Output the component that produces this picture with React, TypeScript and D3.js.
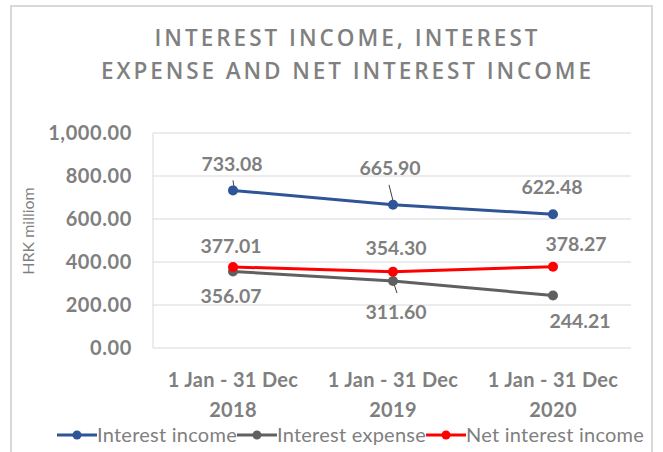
import React, { useEffect, useRef } from "react";
import * as d3 from "d3";

// ---- data ----
const years = ["2018", "2019", "2020"];
const periodLabels = ["1 Jan - 31 Dec", "1 Jan - 31 Dec", "1 Jan - 31 Dec"];
const interestIncome = [733.08, 665.9, 622.48];
const interestExpense = [356.07, 311.6, 244.21];
const netInterestIncome = [377.01, 354.3, 378.27];
const yTicks = [0, 200, 400, 600, 800, 1000];
const seriesNames = ["Interest income", "Interest expense", "Net interest income"];
const titleLines = ["INTEREST INCOME, INTEREST", "EXPENSE AND NET INTEREST INCOME"];
const yAxisTitle = "HRK milliom";

// ---- styling ----
const seriesColors = ["#2E5597", "#606060", "#FF0000"];
// label center offsets from point (dx, dy)
const labelOffsets = [
  [[-1, -26], [-3, -37], [-1, -27]],
  [[-2, 25], [3, 31], [27, 26]],
  [[-2, -21], [3, -24], [23, -23]],
];
// leader lines: [series, index, x1, y1, x2, y2] offsets from the point
const leaders = [
  [0, 0, 0, -10, 1, -3],
  [0, 1, -4, -20, 0, -4],
  [1, 1, 0, 0, 4, 12],
];

const W = 663;
const H = 452;
const FONT = "Lato, 'Open Sans', sans-serif";
const TXT = "#7f7f7f";

export default function App() {
  const ref = useRef<SVGSVGElement>(null);

  useEffect(() => {
    const svg = d3.select(ref.current);
    svg.selectAll("*").remove();

    const x = d3.scaleBand<string>().domain(years).range([153, 633]);
    const cx = (c: string) => (x(c) as number) + x.bandwidth() / 2;
    const y = d3.scaleLinear().domain([0, 1000]).range([348, 133]);

    // border
    svg.append("rect").attr("x", 11).attr("y", 6).attr("width", 641).attr("height", 460)
      .attr("fill", "#fff").attr("stroke", "#d9d9d9").attr("stroke-width", 2);

    // title
    const title = svg.append("g");
    titleLines.forEach((t, i) => {
      title.append("text").attr("x", 346).attr("y", 46 + i * 33)
        .attr("text-anchor", "middle").attr("font-family", "'Open Sans', sans-serif")
        .attr("font-weight", 600).attr("font-size", 22.5).attr("fill", "#808080")
        .attr("textLength", i === 0 ? 383 : 490).attr("lengthAdjust", "spacing")
        .text(t);
    });

    // gridlines
    svg.append("g").selectAll("line").data(yTicks).join("line")
      .attr("x1", 153).attr("x2", 631).attr("y1", d => y(d)).attr("y2", d => y(d))
      .attr("stroke", "#d9d9d9").attr("stroke-width", 1);
    svg.append("line").attr("x1", 153).attr("x2", 153).attr("y1", y(1000)).attr("y2", y(0))
      .attr("stroke", "#d9d9d9");

    // y tick labels
    const fmt = d3.format(",.2f");
    svg.append("g").selectAll("text").data(yTicks).join("text")
      .attr("x", 132).attr("y", d => y(d) + 7).attr("text-anchor", "end")
      .attr("font-family", FONT).attr("font-weight", 700).attr("font-size", 20)
      .attr("letter-spacing", 0.6)
      .attr("fill", TXT).text(d => fmt(d));

    // y axis title
    svg.append("text").attr("transform", "translate(34,231) rotate(-90)")
      .attr("text-anchor", "middle").attr("font-family", FONT).attr("font-size", 16)
      .attr("fill", TXT).text(yAxisTitle);

    // x labels
    const xl = svg.append("g");
    years.forEach((yr, i) => {
      xl.append("text").attr("x", cx(yr)).attr("y", 387).attr("text-anchor", "middle")
        .attr("font-family", FONT).attr("font-weight", 700).attr("font-size", 20)
        .attr("letter-spacing", 0.3)
        .attr("fill", TXT).text(periodLabels[i]);
      xl.append("text").attr("x", cx(yr)).attr("y", 417).attr("text-anchor", "middle")
        .attr("font-family", FONT).attr("font-weight", 700).attr("font-size", 20)
        .attr("letter-spacing", 0.3)
        .attr("fill", TXT).text(yr);
    });

    const series = [interestIncome, interestExpense, netInterestIncome];
    const line = d3.line<number>().x((_, i) => cx(years[i])).y(d => y(d));

    // leader lines
    leaders.forEach(([s, i, x1, y1, x2, y2]) => {
      const px = cx(years[i]);
      const py = y(series[s][i]);
      svg.append("line").attr("x1", px + x1).attr("y1", py + y1).attr("x2", px + x2).attr("y2", py + y2)
        .attr("stroke", "#404040").attr("stroke-width", 1);
    });

    // lines and markers
    [1, 0, 2].forEach(s => {
      const g = svg.append("g");
      g.append("path").attr("d", line(series[s]) as string).attr("fill", "none")
        .attr("stroke", seriesColors[s]).attr("stroke-width", 3).attr("stroke-linecap", "round");
      g.selectAll("circle").data(series[s]).join("circle")
        .attr("cx", (_, i) => cx(years[i])).attr("cy", d => y(d)).attr("r", 5)
        .attr("fill", seriesColors[s]);
    });

    // data labels
    series.forEach((vals, s) => {
      svg.append("g").selectAll("text").data(vals).join("text")
        .attr("x", (_, i) => cx(years[i]) + labelOffsets[s][i][0])
        .attr("y", (d, i) => y(d) + labelOffsets[s][i][1] + 7)
        .attr("text-anchor", "middle").attr("font-family", FONT).attr("font-weight", 700)
        .attr("font-size", 19.5).attr("fill", TXT).text(d => d3.format(".2f")(d));
    });

    // legend
    const lg = svg.append("g");
    let lx = 57;
    const ly = 435;
    seriesNames.forEach((name, s) => {
      lg.append("line").attr("x1", lx).attr("x2", lx + 40).attr("y1", ly).attr("y2", ly)
        .attr("stroke", seriesColors[s]).attr("stroke-width", 3);
      lg.append("circle").attr("cx", lx + 20).attr("cy", ly).attr("r", 4.5).attr("fill", seriesColors[s]);
      const t = lg.append("text").attr("x", lx + 40).attr("y", ly + 7)
        .attr("font-family", FONT).attr("font-size", 20).attr("letter-spacing", 0.25)
        .attr("fill", TXT).text(name);
      const w = (t.node() as SVGTextElement).getComputedTextLength();
      lx = lx + 40 + w;
    });
  }, []);

  return (
    <svg ref={ref} width={W} height={H}
      style={{ position: "absolute", left: 0, top: 0, background: "#fff" }} />
  );
}
